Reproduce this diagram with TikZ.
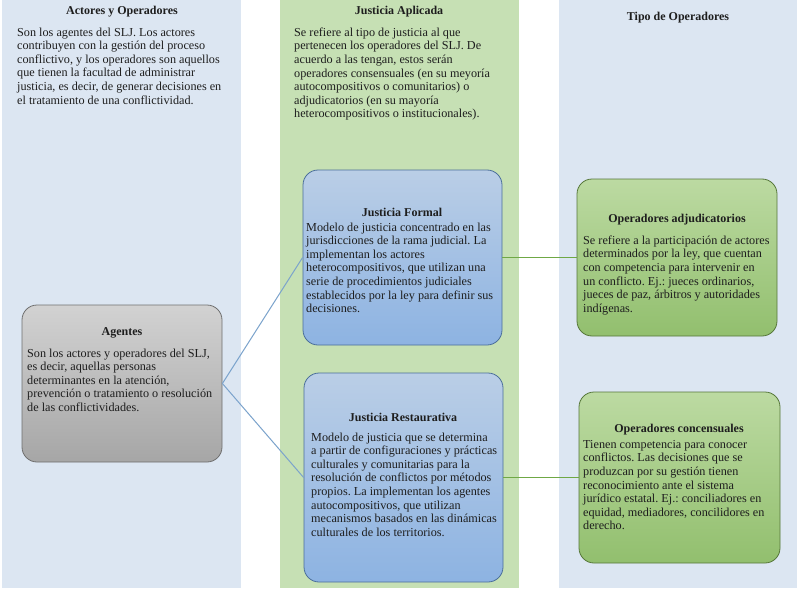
\documentclass[tikz,border=0pt]{standalone}
\usepackage{fontspec}
\setmainfont{Liberation Serif}
\usepackage{xcolor}
\frenchspacing

\definecolor{fondoazul}{HTML}{DCE6F2}
\definecolor{fondoverde}{HTML}{C6E0B4}
\definecolor{grisarriba}{HTML}{D2D2D2}
\definecolor{grisabajo}{HTML}{A6A6A6}
\definecolor{grisborde}{HTML}{6F6F6F}
\definecolor{azularriba}{HTML}{BACEE6}
\definecolor{azulabajo}{HTML}{8DB3E2}
\definecolor{azulborde}{HTML}{4A6E9A}
\definecolor{verdearriba}{HTML}{BCDAA2}
\definecolor{verdeabajo}{HTML}{92BF6E}
\definecolor{verdeborde}{HTML}{56773A}
\definecolor{lineaazul}{HTML}{7BA3CC}
\definecolor{lineaverde}{HTML}{6FA845}
\definecolor{tinta}{HTML}{1E1E1E}

\begin{document}
\begin{tikzpicture}[x=1pt, y=-1pt,
		titulo/.style={font=\fontsize{12}{14}\selectfont\bfseries, text=tinta, inner sep=0pt},
		texto/.style={font=\fontsize{12.2}{13.6}\selectfont, text=tinta, align=left, anchor=north west, inner sep=0pt},
		caja/.style={draw, rounded corners=15pt, line width=0.8pt},
		cajagris/.style={caja, draw=grisborde, top color=grisarriba, bottom color=grisabajo},
		cajaazul/.style={caja, draw=azulborde, top color=azularriba, bottom color=azulabajo},
		cajaverde/.style={caja, draw=verdeborde, top color=verdearriba, bottom color=verdeabajo}]
		
		\useasboundingbox (0,0) rectangle (799,588);
		\fill[white] (0,0) rectangle (799,588);
		
		% Columnas
		\fill[fondoazul] (2,0) rectangle (241,588);
		\fill[fondoverde] (280,0) rectangle (519,588);
		\fill[fondoazul] (559,0) rectangle (797,588);
		
		% Columna izquierda
		\node[titulo] (tactores) at (122,12) {Actores y Operadores};
		\node[texto] (dactores) at (17,27.5) {Son los agentes del SLJ. Los actores\\
			contribuyen con la gestión del proceso\\
			conflictivo, y los operadores son aquellos\\
			que tienen la facultad de administrar\\
			justicia, es decir, de generar decisiones en\\
			el tratamiento de una conflictividad.};
		
		% Columna central
		\node[titulo] (tjusticia) at (399,12) {Justicia Aplicada};
		\node[texto] (djusticia) at (294,27.5) {Se refiere al tipo de justicia al que\\
			pertenecen los operadores del SLJ. De\\
			acuerdo a las tengan, estos serán\\
			operadores consensuales (en su meyoría\\
			autocompositivos o comunitarios) o\\
			adjudicatorios (en su mayoría\\
			heterocompositivos o institucionales).};
		
		% Columna derecha
		\node[titulo] (ttipo) at (678,18) {Tipo de Operadores};
		
		% Cajas
		\node[cajagris, minimum width=200pt, minimum height=157pt] (agentes) at (122,383.5) {};
		\node[cajaazul, minimum width=199pt, minimum height=175pt] (formal) at (402.5,257.5) {};
		\node[cajaazul, minimum width=199pt, minimum height=209pt] (restaurativa) at (403.5,477.5) {};
		\node[cajaverde, minimum width=200pt, minimum height=157pt] (adjudicatorios) at (677,257.5) {};
		\node[cajaverde, minimum width=201pt, minimum height=171pt] (concensuales) at (679.5,477.5) {};
		
		% Conectores
		\draw[lineaazul, line width=1pt] (agentes.east) -- (formal.west);
		\draw[lineaazul, line width=1pt] (agentes.east) -- (restaurativa.west);
		\draw[lineaverde, line width=1.6pt] (formal.east) -- (adjudicatorios.west);
		\draw[lineaverde, line width=1.6pt] (restaurativa.east) -- (concensuales.west);
		
		% Textos de las cajas
		\node[titulo] (tagentes) at (122,333) {Agentes};
		\node[texto] (dagentes) at (27,348.5) {Son los actores y operadores del SLJ,\\
			es decir, aquellas personas\\
			determinantes en la atención,\\
			prevención o tratamiento o resolución\\
			de las conflictividades.};
		
		\node[titulo] (tformal) at (402,212) {Justicia Formal};
		\node[texto] (dformal) at (306,222.5) {Modelo de justicia concentrado en las\\
			jurisdicciones de la rama judicial. La\\
			implementan los actores\\
			heterocompositivos, que utilizan una\\
			serie de procedimientos judiciales\\
			establecidos por la ley para definir sus\\
			decisiones.};
		
		\node[titulo] (trestaurativa) at (403,417) {Justicia Restaurativa};
		\node[texto] (drestaurativa) at (311,432.5) {Modelo de justicia que se determina\\
			a partir de configuraciones y prácticas\\
			culturales y comunitarias para la\\
			resolución de conflictos por métodos\\
			propios. La implementan los agentes\\
			autocompositivos, que utilizan\\
			mecanismos basados en las dinámicas\\
			culturales de los territorios.};
		
		\node[titulo] (tadjudicatorios) at (677,220) {Operadores adjudicatorios};
		\node[texto] (dadjudicatorios) at (583,235.5) {Se refiere a la participación de actores\\
			determinados por la ley, que cuentan\\
			con competencia para intervenir en\\
			un conflicto. Ej.: jueces ordinarios,\\
			jueces de paz, árbitros y autoridades\\
			indígenas.};
		
		\node[titulo] (tconcensuales) at (679,430) {Operadores concensuales};
		\node[texto] (dconcensuales) at (583,440) {Tienen competencia para conocer\\
			conflictos. Las decisiones que se\\
			produzcan por su gestión tienen\\
			reconocimiento ante el sistema\\
			jurídico estatal. Ej.: conciliadores en\\
			equidad, mediadores, concilidores en\\
			derecho.};
		
	\end{tikzpicture}
\end{document}
